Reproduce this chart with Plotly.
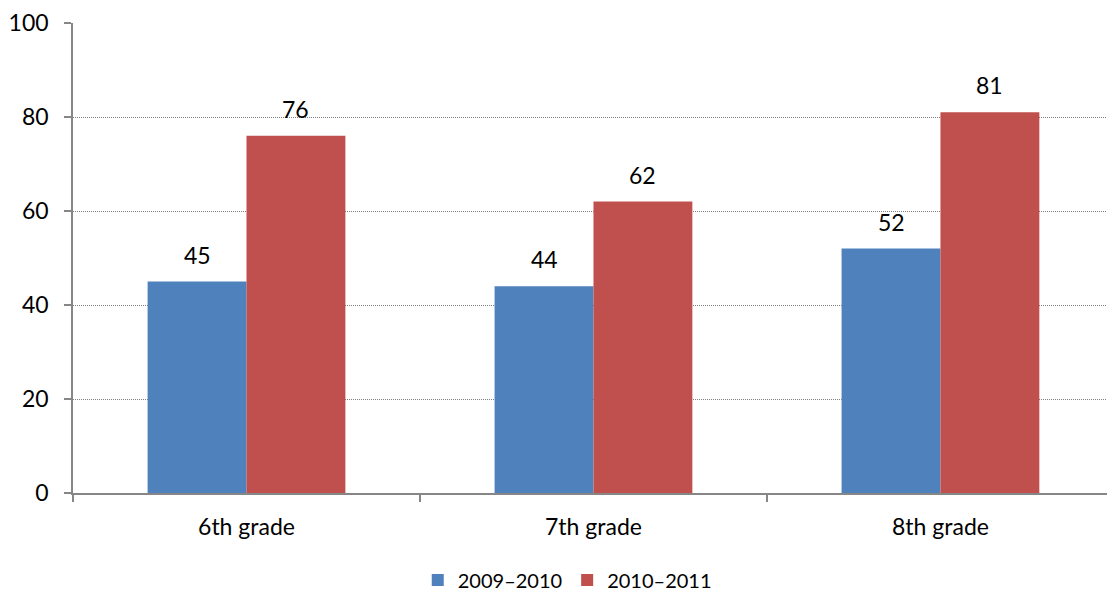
import plotly.graph_objects as go

categories = ["6th grade", "7th grade", "8th grade"]
series_names = ["2009–2010", "2010–2011"]
values_2009_2010 = [45, 44, 52]
values_2010_2011 = [76, 62, 81]
colors = ["#4F81BD", "#C0504D"]
y_ticks = [0, 20, 40, 60, 80, 100]

FONT = "Lato, 'Open Sans', sans-serif"

fig = go.Figure()
for name, vals, col in zip(series_names, [values_2009_2010, values_2010_2011], colors):
    fig.add_trace(go.Bar(
        x=categories, y=vals, name=name,
        marker=dict(color=col, line=dict(width=0)),
        offsetgroup=name,
    ))

annotations = []
for i, vals in enumerate([values_2009_2010, values_2010_2011]):
    for j, v in enumerate(vals):
        annotations.append(dict(
            x=j, y=v, xref="x", yref="y",
            xshift=(-0.1425 if i == 0 else 0.1425) * 347,
            yshift=27, yanchor="middle", text=str(v), showarrow=False,
            font=dict(family=FONT, size=23, color="#000000"),
        ))

fig.update_layout(
    width=1107, height=594,
    margin=dict(l=73, r=0, t=23, b=101, autoexpand=False),
    paper_bgcolor="white", plot_bgcolor="white",
    barmode="group", bargap=0.43, bargroupgap=0,
    font=dict(family=FONT, size=20, color="#000000"),
    annotations=annotations,
    showlegend=True,
    legend=dict(orientation="h", x=0.478, xanchor="center", y=-0.185, yanchor="middle",
                font=dict(family=FONT, size=20), itemwidth=30, traceorder="normal"),
    xaxis=dict(
        range=[-0.5, 2.48], showline=True, linecolor="#868686", linewidth=1.5,
        ticks="outside", tickson="boundaries", ticklen=7, tickcolor="#868686", tickwidth=1.5,
        tickfont=dict(family=FONT, size=23, color="#000000"), showgrid=False, zeroline=False,
        ticklabelstandoff=13, automargin=False,
    ),
    yaxis=dict(
        range=[0, 100], tickvals=y_ticks, showline=True, linecolor="#868686", linewidth=1.5,
        ticks="outside", ticklen=7, tickcolor="#868686", tickwidth=1.5,
        showgrid=True, gridcolor="#808080", griddash="1px,1px", gridwidth=1,
        zeroline=False, tickfont=dict(family=FONT, size=23, color="#000000"),
        ticklabelstandoff=11, automargin=False,
    ),
)

fig.write_html("out.html")
